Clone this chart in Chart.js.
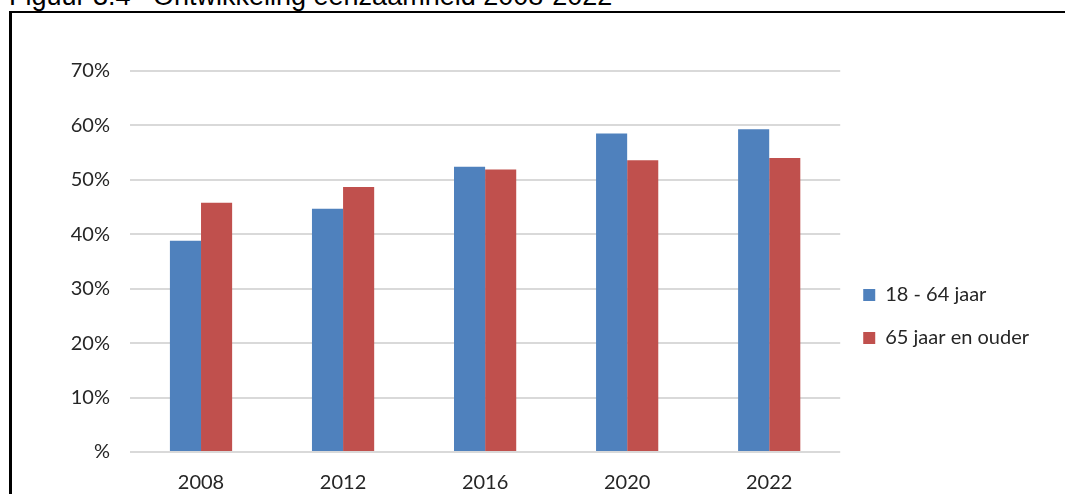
<!DOCTYPE html>
<html>
<head>
<meta charset="utf-8">
<script src="https://cdn.jsdelivr.net/npm/chart.js@4"></script>
<style>
  html, body { margin: 0; padding: 0; background: #fff; overflow: hidden; width: 1065px; height: 494px; }
  .cap { position: absolute; top: -17px; font: 27px "Liberation Sans", Arial, sans-serif; line-height: 27px; color: #000; white-space: nowrap; }
  #frame { position: absolute; left: 9px; top: 11px; width: 1100px; height: 600px; border-left: 3px solid #000; border-top: 2px solid #000; }
  #chart { position: absolute; left: 0; top: 0; }
</style>
</head>
<body>
<div class="cap" style="left:9px">Figuur 3.4</div>
<div class="cap" style="left:153px">Ontwikkeling eenzaamheid 2008-2022</div>
<div id="frame"></div>
<canvas id="chart" width="1065" height="562"></canvas>
<script>
// data (percentages)
const years = ['2008', '2012', '2016', '2020', '2022']
const jong = [38.8, 44.7, 52.4, 58.5, 59.3]   // 18 - 64 jaar
const oud = [45.8, 48.7, 51.9, 53.6, 54.0]    // 65 jaar en ouder
const yTicks = [0, 10, 20, 30, 40, 50, 60, 70]

const txt = '#262626'
const font = { family: 'Lato, "Open Sans", sans-serif', size: 20 }

var context = document.getElementById('chart').getContext('2d');
new Chart(context, {
    type: 'bar',
    data: {
        labels: years,
        datasets: [{
            label: '18 - 64 jaar',
            data: jong,
            backgroundColor: '#4f81bd',
            categoryPercentage: 0.438,
            barPercentage: 1
        }, {
            label: '65 jaar en ouder',
            data: oud,
            backgroundColor: '#c0504d',
            categoryPercentage: 0.438,
            barPercentage: 1
        }]
    },
    options: {
        responsive: false,
        animation: false,
        layout: { padding: { top: 71, left: 0, right: 26, bottom: 0 } },
        plugins: {
            tooltip: { enabled: false },
            legend: {
                position: 'right',
                align: 'center',
                labels: { boxWidth: 12, boxHeight: 12, padding: 23, color: txt, font: font }
            }
        },
        scales: {
            x: {
                grid: { display: false },
                border: { display: false },
                ticks: { color: txt, font: font, padding: 11 },
                afterFit: (s) => { s.height = 110 }
            },
            y: {
                min: 0,
                max: 70,
                afterBuildTicks: (s) => { s.ticks = yTicks.map(v => ({ value: v })) },
                grid: { color: '#d9d9d9', lineWidth: 2, drawTicks: false },
                border: { display: false },
                ticks: {
                    color: txt, font: font, padding: 20,
                    callback: (v) => v === 0 ? '%' : v + '%'
                },
                afterFit: (s) => { s.width = 130 }
            }
        }
    }
});
</script>
</body>
</html>
